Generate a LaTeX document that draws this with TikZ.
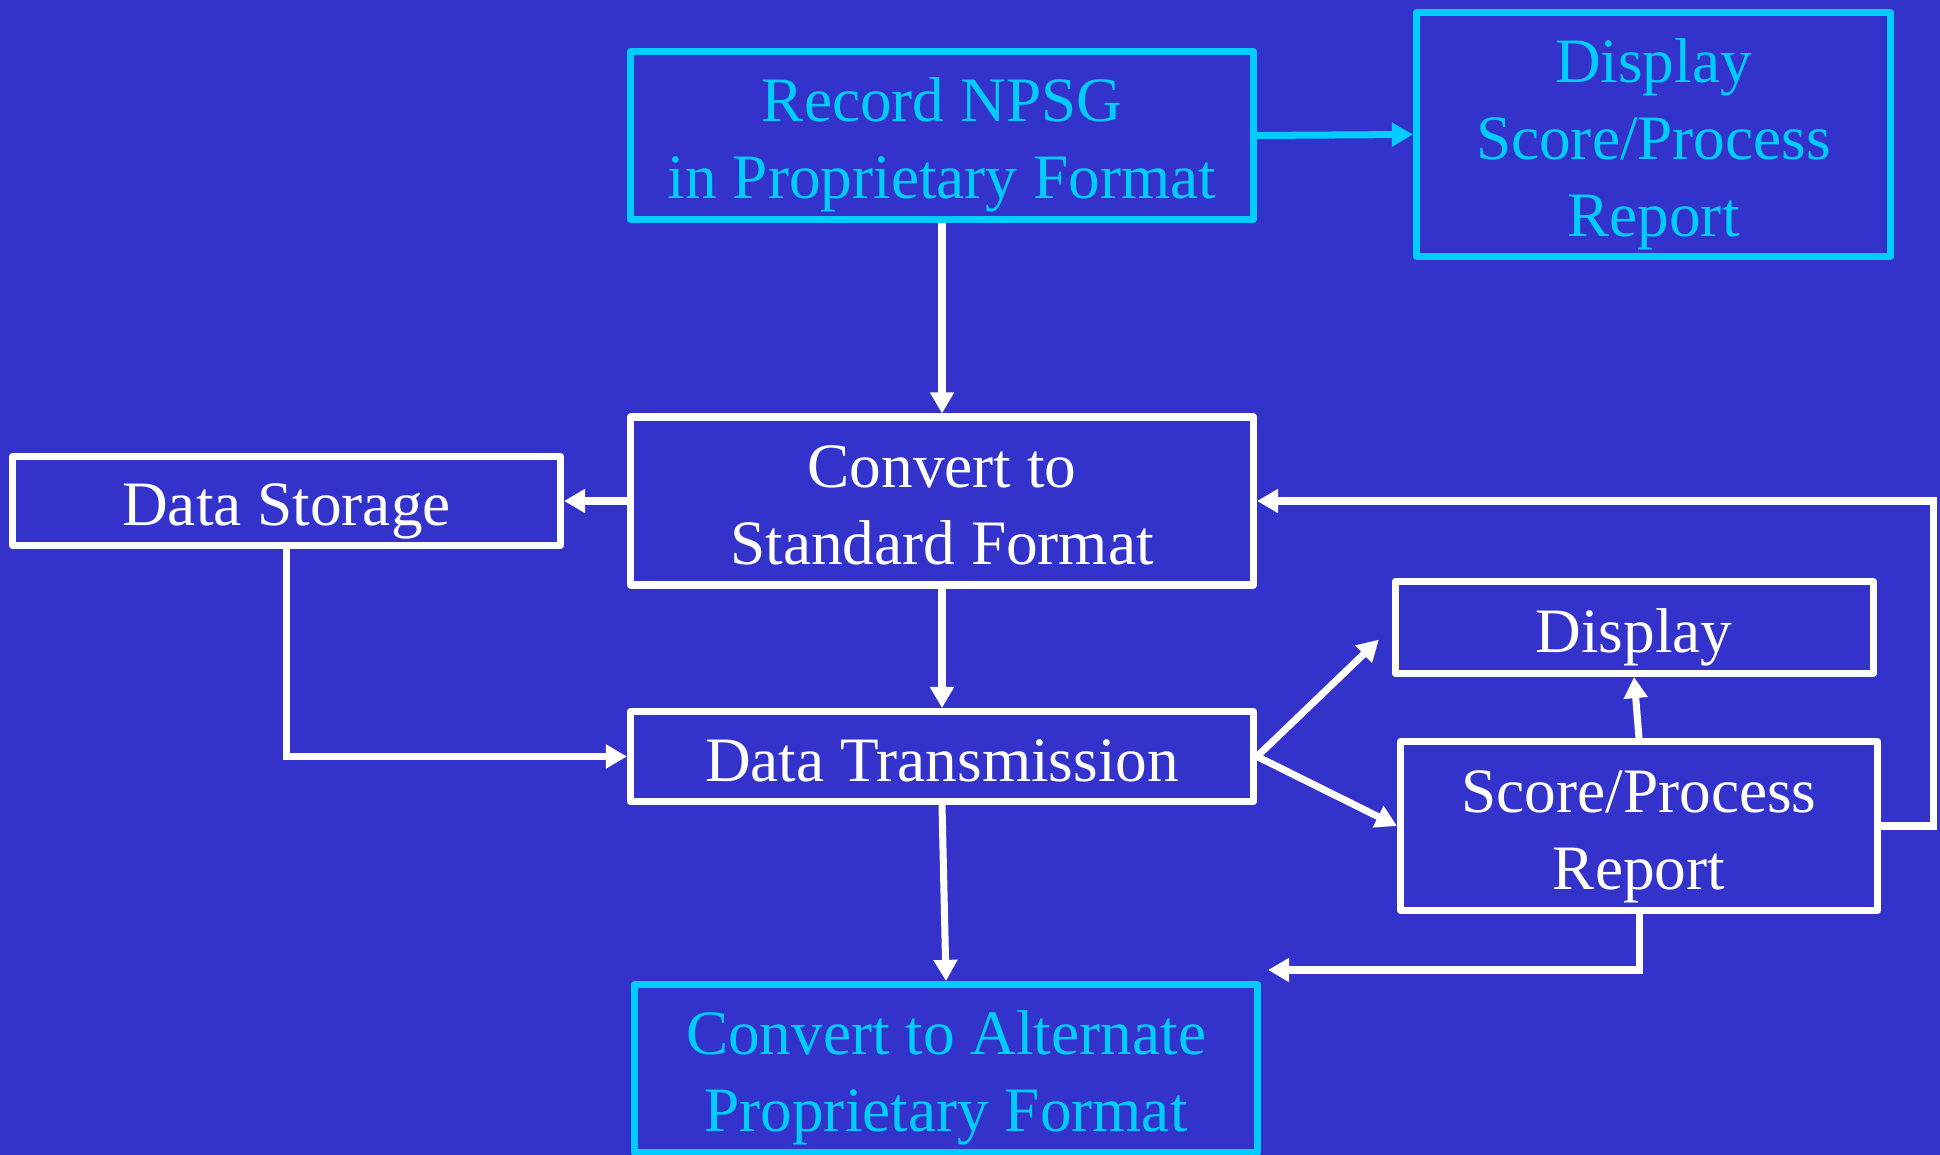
\documentclass[tikz,border=0pt]{standalone}
\usepackage{fontspec}
\setmainfont{Liberation Serif}
\usetikzlibrary{arrows.meta}
\definecolor{slideblue}{RGB}{51,51,204}
\definecolor{slidecyan}{RGB}{0,204,255}
\newcommand{\linetop}{\rule{0pt}{18pt}}
\tikzset{
  flownode/.style = {align=center, inner sep=0pt, text centered, line width=2pt, line join=round,
    execute at end node={\rule[-4pt]{0pt}{4pt}}},
  box_w/.style = {flownode, white, draw=white},
  box_c/.style = {flownode, slidecyan, draw=slidecyan},
  link_w/.style = {white, line width=2pt, -{Triangle[length=6pt,width=6.5pt]}},
  link_c/.style = {slidecyan, line width=2pt, -{Triangle[length=6pt,width=6.5pt]}},
}

\begin{document}
\begin{tikzpicture}[font=\fontsize{18}{21.9}\selectfont]
  \fill [slideblue] (0,0) rectangle (19.4,11.55);
  \useasboundingbox (0,0) rectangle (19.4,11.55);

  \node [box_c, minimum width=6.23cm, minimum height=1.68cm] (record) at (9.42,10.195)
    {\linetop Record NPSG\\in Proprietary Format};
  \node [box_c, minimum width=4.74cm, minimum height=2.44cm] (showall) at (16.535,10.205)
    {\linetop Display\\Score/Process\\Report};
  \node [box_w, minimum width=6.23cm, minimum height=1.68cm] (convert) at (9.42,6.54)
    {\linetop Convert to\\Standard Format};
  \node [box_w, minimum width=5.48cm, minimum height=0.89cm] (storage) at (2.865,6.54)
    {\linetop Data Storage};
  \node [box_w, minimum width=6.23cm, minimum height=0.90cm] (transmit) at (9.42,3.985)
    {\linetop Data Transmission};
  \node [box_w, minimum width=4.78cm, minimum height=0.92cm] (display) at (16.34,5.275)
    {\linetop Display};
  \node [box_w, minimum width=4.77cm, minimum height=1.69cm] (score) at (16.39,3.29)
    {\linetop Score/Process\\Report};
  \node [box_c, minimum width=6.23cm, minimum height=1.68cm] (alternate) at (9.46,0.865)
    {\linetop Convert to Alternate\\Proprietary Format};
  \coordinate (altin) at (12.68,1.85);

  \draw [link_c] (record.east) -- (showall.west);
  \draw [link_w] (record.south) -- (convert.north);
  \draw [link_w] (convert.west) -- (storage.east);
  \draw [link_w] (storage.south) |- (transmit.west);
  \draw [link_w] (convert.south) -- (transmit.north);
  \draw [link_w, shorten >=5pt] (transmit.east) -- (display.west);
  \draw [link_w] (transmit.east) -- (score.west);
  \draw [link_w] (score.north) -- (display.south);
  \draw [link_w] (score.east) -- ++(0.52,0) |- (convert.east);
  \draw [link_w] (score.south) |- (altin);
  \draw [link_w] (transmit.south) -- (alternate.north);
\end{tikzpicture}
\end{document}
